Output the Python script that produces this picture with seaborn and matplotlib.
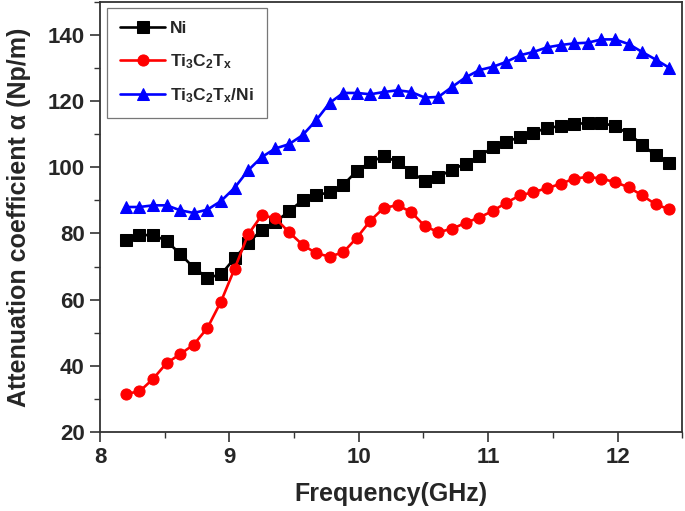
import numpy as np
import pandas as pd
import matplotlib
matplotlib.use("Agg")
import matplotlib.pyplot as plt
import seaborn as sns
from matplotlib.ticker import MultipleLocator

# frequency points (GHz)
freq = [8.2, 8.305, 8.41, 8.515, 8.62, 8.725, 8.83, 8.935, 9.04, 9.145,
        9.25, 9.355, 9.46, 9.565, 9.67, 9.775, 9.88, 9.985, 10.09, 10.195,
        10.3, 10.405, 10.51, 10.615, 10.72, 10.825, 10.93, 11.035, 11.14, 11.245,
        11.35, 11.455, 11.56, 11.665, 11.77, 11.875, 11.98, 12.085, 12.19, 12.295,
        12.4]

ni = [78.1, 79.4, 79.6, 77.7, 73.8, 69.6, 66.6, 67.6, 72.5, 77.1,
      81.1, 83.4, 86.7, 90.0, 91.5, 92.5, 94.7, 98.9, 101.6, 103.4,
      101.6, 98.6, 95.8, 97.1, 99.3, 101.1, 103.3, 106.0, 107.7, 109.2,
      110.4, 112.0, 112.4, 113.0, 113.5, 113.5, 112.4, 110.2, 106.9, 103.6,
      101.4]

ti3c2tx = [31.5, 32.2, 36.0, 40.8, 43.5, 46.4, 51.4, 59.4, 69.3, 79.7,
           85.5, 84.6, 80.4, 76.6, 74.0, 73.0, 74.3, 78.7, 83.9, 87.8,
           88.5, 86.5, 82.2, 80.4, 81.4, 83.2, 84.8, 86.8, 89.3, 91.5,
           92.5, 93.7, 95.0, 96.6, 97.1, 96.6, 95.5, 94.0, 91.5, 88.8,
           87.3]

ti3c2tx_ni = [88.0, 88.0, 88.5, 88.5, 87.0, 86.2, 87.2, 89.8, 93.8, 99.1,
              103.1, 105.7, 107.0, 109.7, 114.2, 119.5, 122.5, 122.5, 122.1, 122.8,
              123.3, 122.8, 121.1, 121.3, 124.3, 127.2, 129.4, 130.4, 131.9, 133.9,
              134.9, 136.3, 137.0, 137.5, 137.7, 138.7, 138.7, 137.3, 134.9, 132.6,
              130.1]

labels = ["Ni", r"Ti$_3$C$_2$T$_x$", r"Ti$_3$C$_2$T$_x$/Ni"]

sns.set_style("ticks")
plt.rcParams['font.family'] = ['Liberation Sans', 'DejaVu Sans']
plt.rcParams['mathtext.fontset'] = 'custom'
plt.rcParams['mathtext.rm'] = 'Liberation Sans:bold'
plt.rcParams['mathtext.it'] = 'Liberation Sans:bold'
plt.rcParams['mathtext.bf'] = 'Liberation Sans:bold'
plt.rcParams['mathtext.default'] = 'bf'

fig = plt.figure(figsize=(6.85, 5.11), dpi=100)
ax = fig.add_axes([0.146, 0.155, 0.850, 0.841])

series = [(ni, "black", "s"), (ti3c2tx, "#ff0000", "o"), (ti3c2tx_ni, "#0000ff", "^")]
for (vals, col, mk), lab in zip(series, labels):
    df = pd.DataFrame({"f": freq, "a": vals})
    sns.lineplot(data=df, x="f", y="a", ax=ax, color=col, marker=mk,
                 markersize=8, markeredgecolor=col, linewidth=1.9, label=lab)

ax.set_xlim(8, 12.5)
ax.set_ylim(20, 150)
ax.xaxis.set_major_locator(MultipleLocator(1))
ax.xaxis.set_minor_locator(MultipleLocator(0.5))
ax.yaxis.set_major_locator(MultipleLocator(20))
ax.yaxis.set_minor_locator(MultipleLocator(10))
ax.tick_params(which="major", direction="out", length=7, width=1.2,
               labelsize=16, color="#333333", pad=4)
ax.tick_params(which="minor", direction="out", length=4, width=1.0, color="#333333")
for lab in ax.get_xticklabels() + ax.get_yticklabels():
    lab.set_fontweight("bold")
for s in ax.spines.values():
    s.set_visible(True)
    s.set_linewidth(1.3)
    s.set_color("#333333")

ax.set_xlabel("Frequency(GHz)", fontsize=18, fontweight="bold", labelpad=10)
ax.set_ylabel("Attenuation coefficient α (Np/m)", fontsize=18, fontweight="bold", labelpad=12)

leg = ax.legend(loc="upper left", bbox_to_anchor=(0.012, 0.986), frameon=True,
                fancybox=False, edgecolor="#555555", fontsize=12.5,
                handlelength=2.6, labelspacing=0.9, borderpad=0.75,
                borderaxespad=0, handletextpad=0.3)
leg.get_frame().set_linewidth(0.9)
for t in leg.get_texts():
    t.set_fontweight("bold")

fig.savefig("out.png", dpi=100)
